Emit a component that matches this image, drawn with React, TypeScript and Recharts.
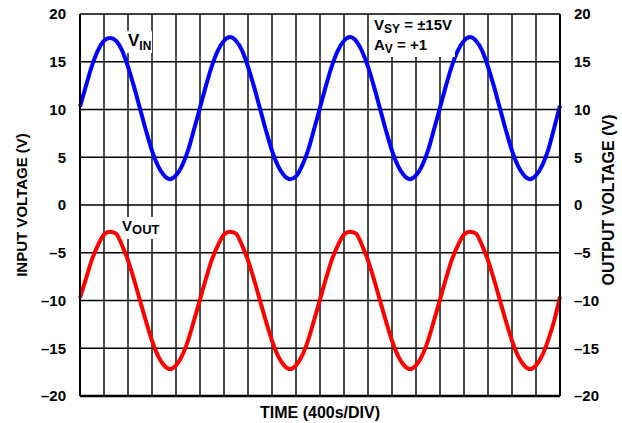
import React from "react";
import {
  LineChart,
  Line,
  XAxis,
  YAxis,
  CartesianGrid,
} from "recharts";

// Sample times (s), one sample every 100 s, 400 s per division, 20 divisions
const SAMPLE_STEP = 100;
const X_TICKS = [0, 400, 800, 1200, 1600, 2000, 2400, 2800, 3200, 3600, 4000, 4400, 4800, 5200, 5600, 6000, 6400, 6800, 7200, 7600, 8000];
const Y_TICKS = [-20, -15, -10, -5, 0, 5, 10, 15, 20];

// Input voltage (V)
const VIN = [
  10.3, 12.5, 14.6, 16.2, 17.2, 17.5, 17.2, 16.2, 14.5, 12.4, 10.1, 7.8, 5.7, 4.1, 3.1, 2.7, 3.1, 4.1, 5.7, 7.9,
  10.2, 12.5, 14.6, 16.2, 17.2, 17.6, 17.2, 16.2, 14.5, 12.4, 10.1, 7.8, 5.7, 4.1, 3.1, 2.7, 3.0, 4.1, 5.7, 7.9,
  10.2, 12.5, 14.6, 16.2, 17.2, 17.6, 17.2, 16.1, 14.5, 12.4, 10.1, 7.8, 5.7, 4.1, 3.1, 2.7, 3.1, 4.1, 5.7, 7.9,
  10.2, 12.5, 14.6, 16.2, 17.2, 17.6, 17.2, 16.2, 14.5, 12.4, 10.1, 7.8, 5.7, 4.1, 3.1, 2.7, 3.1, 4.1, 5.7, 8.0,
  10.4,
];

// Output voltage (V)
const VOUT = [
  -9.7, -7.7, -5.7, -4.2, -3.1, -2.8, -3.0, -4.2, -5.8, -7.8, -10.0, -12.2, -14.2, -15.8, -16.8, -17.2, -16.8, -15.8, -14.2, -12.1,
  -9.9, -7.7, -5.7, -4.2, -3.1, -2.8, -3.0, -4.2, -5.8, -7.8, -10.0, -12.2, -14.2, -15.8, -16.8, -17.2, -16.8, -15.8, -14.2, -12.1,
  -9.9, -7.7, -5.7, -4.2, -3.1, -2.8, -3.0, -4.2, -5.8, -7.8, -10.0, -12.2, -14.2, -15.8, -16.8, -17.2, -16.8, -15.8, -14.2, -12.1,
  -9.9, -7.7, -5.7, -4.2, -3.1, -2.8, -3.0, -4.2, -5.8, -7.8, -10.0, -12.2, -14.2, -15.8, -16.8, -17.2, -16.8, -15.8, -14.2, -12.2,
  -9.6,
];

const data = VIN.map((v, i) => ({ t: i * SAMPLE_STEP, vin: v, vout: VOUT[i] }));

const FONT = "'Liberation Sans', Arial, Helvetica, sans-serif";

const fmt = (v: number) => (v < 0 ? "\u2013" + Math.abs(v) : String(v));

const Annotations = () => (
  <svg
    width={622}
    height={423}
    style={{ position: "absolute", left: 0, top: 0, pointerEvents: "none" }}
  >
    <g fontFamily={FONT} fontWeight="bold" fill="#000">
      <rect x={125} y={31} width={27} height={22} fill="#fff" />
      <text x={128} y={46} fontSize={17} fill="#000">
        V<tspan fontSize={12} dy={4}>IN</tspan>
      </text>
      <rect x={121} y={217} width={38} height={22} fill="#fff" />
      <text x={122} y={231} fontSize={15} fill="#000">
        V<tspan fontSize={13} dy={3}>OUT</tspan>
      </text>
      <rect x={371} y={15} width={84} height={42} fill="#fff" />
      <text x={374} y={29.5} fontSize={15} fill="#000">
        V<tspan fontSize={12} dy={3}>SY</tspan>
        <tspan dy={-3}> = ±15V</tspan>
      </text>
      <text x={374} y={50} fontSize={15} fill="#000">
        A<tspan fontSize={12} dy={3}>V</tspan>
        <tspan dy={-3}> = +1</tspan>
      </text>
    </g>
  </svg>
);

const LeftLabel = (props: any) => {
  const vb = props.viewBox || { x: 0, y: 14, width: 80, height: 382 };
  const cx = vb.x + 21.5;
  const cy = vb.y + vb.height / 2;
  return (
    <text
      x={cx}
      y={cy}
      transform={`rotate(-90 ${cx} ${cy})`}
      textAnchor="middle"
      dominantBaseline="central"
      fontFamily={FONT}
      fontWeight="bold"
      fontSize={15}
      fill="#000"
    >
      INPUT VOLTAGE (V)
    </text>
  );
};

const RightLabel = (props: any) => {
  const vb = props.viewBox || { x: 560, y: 14, width: 62, height: 382 };
  const cx = vb.x + 48;
  const cy = vb.y + vb.height / 2 - 5;
  return (
    <text
      x={cx}
      y={cy}
      transform={`rotate(-90 ${cx} ${cy})`}
      textAnchor="middle"
      dominantBaseline="central"
      fontFamily={FONT}
      fontWeight="bold"
      fontSize={16}
      fill="#000"
    >
      OUTPUT VOLTAGE (V)
    </text>
  );
};

const BottomLabel = (props: any) => {
  const vb = props.viewBox || { x: 80, y: 396, width: 480, height: 27 };
  const cx = vb.x + vb.width / 2;
  return (
    <text
      x={cx}
      y={vb.y + 22}
      textAnchor="middle"
      fontFamily={FONT}
      fontWeight="bold"
      fontSize={16}
      fill="#000"
    >
      TIME (400s/DIV)
    </text>
  );
};

const EmptyTick = () => <g />;

const tickStyle = { fontFamily: FONT, fontWeight: "bold" as const, fontSize: 15, fill: "#000" };

export default function App() {
  return (
    <div style={{ position: "absolute", left: 0, top: 0, width: 622, height: 423, background: "#fff" }}>
      <LineChart
        width={622}
        height={423}
        data={data}
        margin={{ top: 14, right: 0, bottom: 0, left: 0 }}
      >
        <CartesianGrid
          yAxisId="left"
          stroke="#000"
          strokeWidth={1.4}
          vertical
          horizontal
          strokeOpacity={1}
        />
        <XAxis
          dataKey="t"
          type="number"
          domain={[0, 8000]}
          ticks={X_TICKS}
          interval={0}
          tick={EmptyTick}
          tickLine={false}
          axisLine={{ stroke: "#000", strokeWidth: 2.5 }}
          height={27}
          label={<BottomLabel />}
        />
        <YAxis
          yAxisId="left"
          orientation="left"
          domain={[-20, 20]}
          ticks={Y_TICKS}
          tickFormatter={fmt}
          tick={tickStyle}
          tickLine={false}
          tickMargin={8}
          axisLine={{ stroke: "#000", strokeWidth: 2 }}
          width={80}
          label={<LeftLabel />}
        />
        <YAxis
          yAxisId="right"
          orientation="right"
          domain={[-20, 20]}
          ticks={Y_TICKS}
          tickFormatter={fmt}
          tick={tickStyle}
          tickLine={false}
          tickMargin={8}
          axisLine={{ stroke: "#000", strokeWidth: 2 }}
          width={62}
          label={<RightLabel />}
        />
        <Line
          yAxisId="left"
          type="monotone"
          dataKey="vin"
          stroke="#0000ff"
          strokeWidth={4}
          dot={false}
          isAnimationActive={false}
        />
        <Line
          yAxisId="right"
          type="monotone"
          dataKey="vout"
          stroke="#ff0000"
          strokeWidth={4}
          dot={false}
          isAnimationActive={false}
        />
      </LineChart>
      <Annotations />
    </div>
  );
}
